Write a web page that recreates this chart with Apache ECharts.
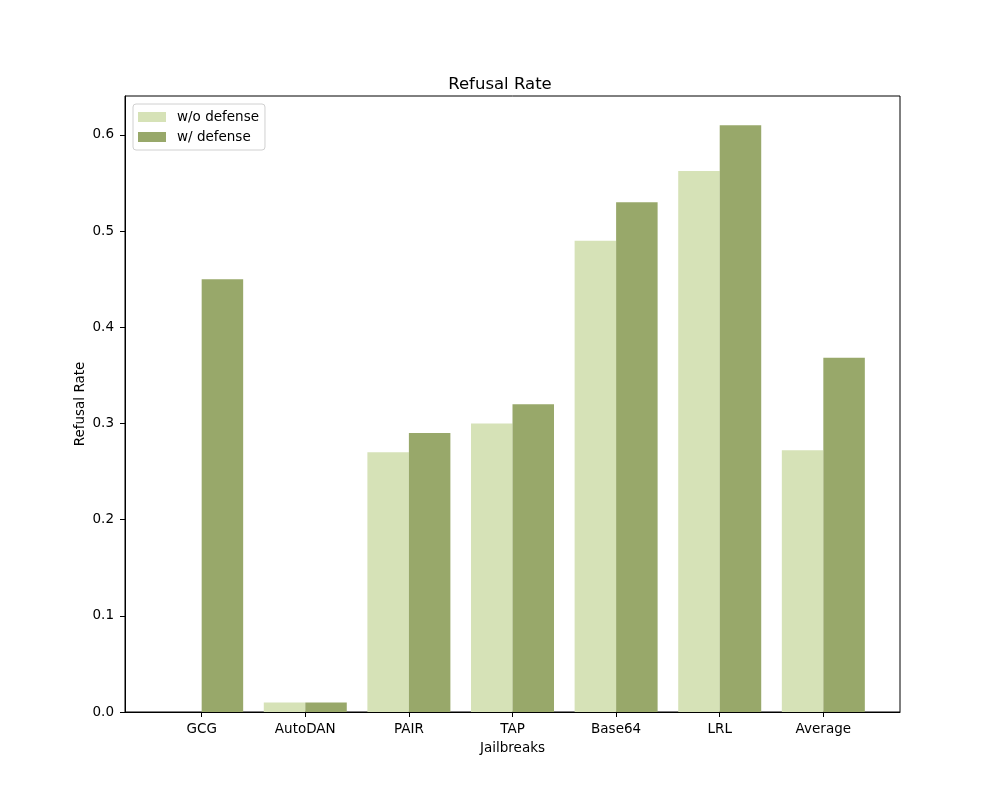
<!DOCTYPE html>
<html>
<head>
<meta charset="utf-8">
<script src="https://cdn.jsdelivr.net/npm/echarts@6/dist/echarts.min.js"></script>
<style>
  html, body { margin: 0; padding: 0; background: #fff; }
  #main { width: 1000px; height: 800px; }
</style>
</head>
<body>
<div id="main"></div>
<script>
// data
const jailbreaks = ['GCG', 'AutoDAN', 'PAIR', 'TAP', 'Base64', 'LRL', 'Average']
const noDefense = [0, 0.01, 0.27, 0.30, 0.49, 0.5625, 0.2721]
const withDefense = [0.45, 0.01, 0.29, 0.32, 0.53, 0.61, 0.3683]
const yTicks = [0, 0.1, 0.2, 0.3, 0.4, 0.5, 0.6]

const FONT = 'DejaVu Sans'
const chart = echarts.init(document.getElementById('main'), null, { renderer: 'canvas' })

// bars are 0.4 wide, matplotlib-style margins
const toPairs = (arr) => arr.map((v, i) => [i, v])

const option = {
  animation: false,
  backgroundColor: '#fff',
  textStyle: { fontFamily: FONT },
  title: {
    text: 'Refusal Rate',
    left: 'center',
    top: 71,
    textStyle: { fontFamily: FONT, fontSize: 16.5, fontWeight: 'normal', color: '#000' }
  },
  legend: {
    orient: 'vertical',
    left: 133,
    top: 104,
    padding: [6, 6, 6, 5],
    itemWidth: 28,
    itemHeight: 10,
    itemGap: 6,
    borderColor: '#d0d0d0',
    borderWidth: 1,
    borderRadius: 3,
    icon: 'rect',
    textStyle: { fontFamily: FONT, fontSize: 13.5, color: '#000', lineHeight: 14, padding: [0, 0, 0, 6] },
    data: ['w/o defense', 'w/ defense']
  },
  grid: {
    left: 125, right: 100, top: 96, bottom: 88,
    show: true, borderColor: '#000', borderWidth: 1, backgroundColor: 'transparent'
  },
  xAxis: {
    type: 'value',
    min: -0.74,
    max: 6.74,
    interval: 1,
    name: 'Jailbreaks',
    nameLocation: 'middle',
    nameGap: 29,
    nameMoveOverlap: false,
    nameTextStyle: { fontFamily: FONT, fontSize: 13.5, color: '#000' },
    splitLine: { show: false },
    axisLine: { show: true, onZero: false, lineStyle: { color: '#000', width: 1 } },
    axisTick: { show: true, inside: false, length: 5, lineStyle: { color: '#000' }, customValues: jailbreaks.map((_, i) => i) },
    axisLabel: {
      fontFamily: FONT, fontSize: 13.5, color: '#000', margin: 10,
      customValues: jailbreaks.map((_, i) => i),
      formatter: (v) => jailbreaks[Math.round(v)] || ''
    }
  },
  yAxis: {
    type: 'value',
    min: 0,
    max: 0.6405,
    interval: 0.1,
    name: 'Refusal Rate',
    nameLocation: 'middle',
    nameGap: 38,
    nameMoveOverlap: false,
    nameTextStyle: { fontFamily: FONT, fontSize: 13.5, color: '#000' },
    splitLine: { show: false },
    axisLine: { show: true, onZero: false, lineStyle: { color: '#000', width: 1 } },
    axisTick: { show: true, inside: false, length: 5, lineStyle: { color: '#000' }, customValues: yTicks },
    axisLabel: {
      fontFamily: FONT, fontSize: 13.5, color: '#000', margin: 11,
      customValues: yTicks,
      formatter: (v) => v.toFixed(1)
    }
  },
  series: [
    {
      name: 'w/o defense',
      type: 'bar',
      barWidth: 41.5,
      barGap: '0%',
      itemStyle: { color: '#d6e2b7' },
      data: toPairs(noDefense)
    },
    {
      name: 'w/ defense',
      type: 'bar',
      barWidth: 41.5,
      barGap: '0%',
      itemStyle: { color: '#98a86a' },
      data: toPairs(withDefense)
    }
  ]
}

chart.setOption(option)
</script>
</body>
</html>
